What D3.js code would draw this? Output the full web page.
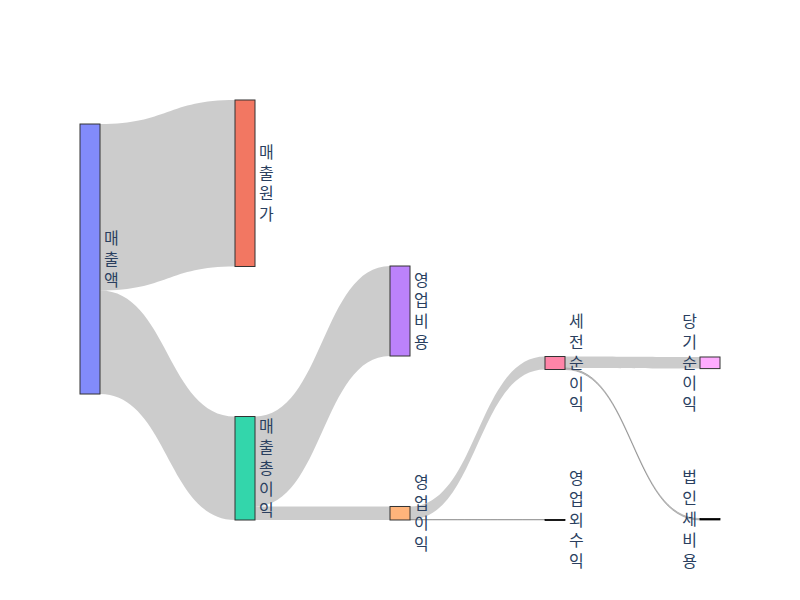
<!DOCTYPE html>
<html>
<head>
<meta charset="utf-8">
<script src="https://cdn.jsdelivr.net/npm/d3@7"></script>
<style>
  html, body { margin: 0; padding: 0; background: #fff; }
  svg { display: block; }
</style>
</head>
<body>
<div id="chart"></div>
<script>
// ---- data ----
const nodeLabels = ["매출액", "매출원가", "매출총이익", "영업비용", "영업이익", "영업외수익", "세전순이익", "법인세비용", "당기순이익"];
const nodeColors = ["#636efa", "#EF553B", "#00cc96", "#ab63fa", "#FFA15A", "#19d3f3", "#FF6692", "#B6E880", "#FF97FF"];
const nodeColumn = [0, 1, 1, 2, 2, 3, 3, 4, 4];
// node centre as fraction of plot height (like plotly node.y)
const nodeY = [0.3786, 0.1982, 0.8768, 0.5024, 0.9839, 0.9994, 0.6262, 0.9983, 0.6257];
const linkSource = [0, 0, 2, 2, 4, 4, 6, 6];
const linkTarget = [1, 2, 3, 4, 6, 5, 8, 7];
const linkValue  = [1665, 1035, 900, 135, 130, 5, 116, 14];

// ---- layout ----
const W = 800, H = 600;
const margin = {l: 80, r: 80, t: 100, b: 80};
const plotW = W - margin.l - margin.r, plotH = H - margin.t - margin.b;
const nodeWidth = 20, nodePad = 150;
const nCols = d3.max(nodeColumn) + 1;

const nodes = nodeLabels.map((label, i) => ({
  i, label, color: nodeColors[i], col: nodeColumn[i], yc: nodeY[i], inL: [], outL: []
}));
const links = linkValue.map((v, k) => ({
  value: v, source: nodes[linkSource[k]], target: nodes[linkTarget[k]]
}));
links.forEach(l => { l.source.outL.push(l); l.target.inL.push(l); });
nodes.forEach(n => {
  n.value = Math.max(d3.sum(n.inL, l => l.value), d3.sum(n.outL, l => l.value));
});

// value scale: largest column must fit with padding
const colSums = d3.range(nCols).map(c => {
  const ns = nodes.filter(n => n.col === c);
  return { sum: d3.sum(ns, n => n.value), count: ns.length };
});
const ky = d3.min(colSums, c => (plotH - (c.count - 1) * nodePad) / c.sum);
const hScale = d3.scaleLinear().domain([0, 1]).range([0, ky]);
const xScale = d3.scaleLinear().domain([0, nCols - 1]).range([margin.l, margin.l + plotW - nodeWidth]);
const yScale = d3.scaleLinear().domain([0, 1]).range([margin.t, margin.t + plotH]);

nodes.forEach(n => {
  n.h = hScale(n.value);
  n.x0 = xScale(n.col); n.x1 = n.x0 + nodeWidth;
  n.y0 = yScale(n.yc) - n.h / 2; n.y1 = n.y0 + n.h;
});
nodes.forEach(n => {
  let y = n.y0;
  n.outL.forEach(l => { l.w = hScale(l.value); l.sy0 = y; y += l.w; });
  y = n.y0;
  n.inL.forEach(l => { l.ty0 = y; y += hScale(l.value); });
});

const svg = d3.select("#chart").append("svg").attr("width", W).attr("height", H);

function linkPath(l) {
  const x0 = l.source.x1, x1 = l.target.x0;
  const xi = d3.interpolateNumber(x0, x1);
  const c0 = xi(0.5), c1 = xi(0.5);
  const a0 = l.sy0, a1 = l.sy0 + l.w, b0 = l.ty0, b1 = l.ty0 + l.w;
  return `M${x0},${a0}C${c0},${a0} ${c1},${b0} ${x1},${b0}` +
         `L${x1},${b1}C${c1},${b1} ${c0},${a1} ${x0},${a1}Z`;
}

svg.append("g").selectAll("path").data(links).join("path")
  .attr("d", linkPath)
  .attr("fill", "rgba(0,0,0,0.2)")
  .attr("stroke", l => l.w < 2 ? "rgba(0,0,0,0.22)" : "none")
  .attr("stroke-width", l => l.w < 2 ? 1 : 0);

const gn = svg.append("g").selectAll("g").data(nodes).join("g");
gn.append("rect")
  .attr("x", n => n.x0).attr("y", n => n.y0)
  .attr("width", nodeWidth).attr("height", n => Math.max(n.h, 1))
  .attr("fill", n => n.h < 2 ? "#000" : n.color).attr("fill-opacity", n => n.h < 2 ? 1 : 0.8)
  .attr("stroke", n => n.h < 2 ? "#000" : "#333").attr("stroke-width", n => n.h < 2 ? 0.8 : 1);

const fs = 16, lh = 1.3 * fs;
gn.append("text")
  .attr("font-family", "'Noto Sans CJK KR', 'Open Sans', sans-serif")
  .attr("font-size", fs)
  .attr("fill", "#2a3f5f")
  .attr("text-anchor", n => n.col === nCols - 1 ? "end" : "start")
  .each(function(n) {
    const chars = Array.from(n.label);
    const x = n.col === nCols - 1 ? n.x0 - 3 : n.x1 + 4;
    const yc = (n.y0 + n.y1) / 2;
    const y0 = yc - (chars.length - 1) / 2 * lh + 0.36 * fs;
    d3.select(this).selectAll("tspan").data(chars).join("tspan")
      .attr("x", x).attr("y", (c, j) => y0 + j * lh).text(c => c);
  });
</script>
</body>
</html>
